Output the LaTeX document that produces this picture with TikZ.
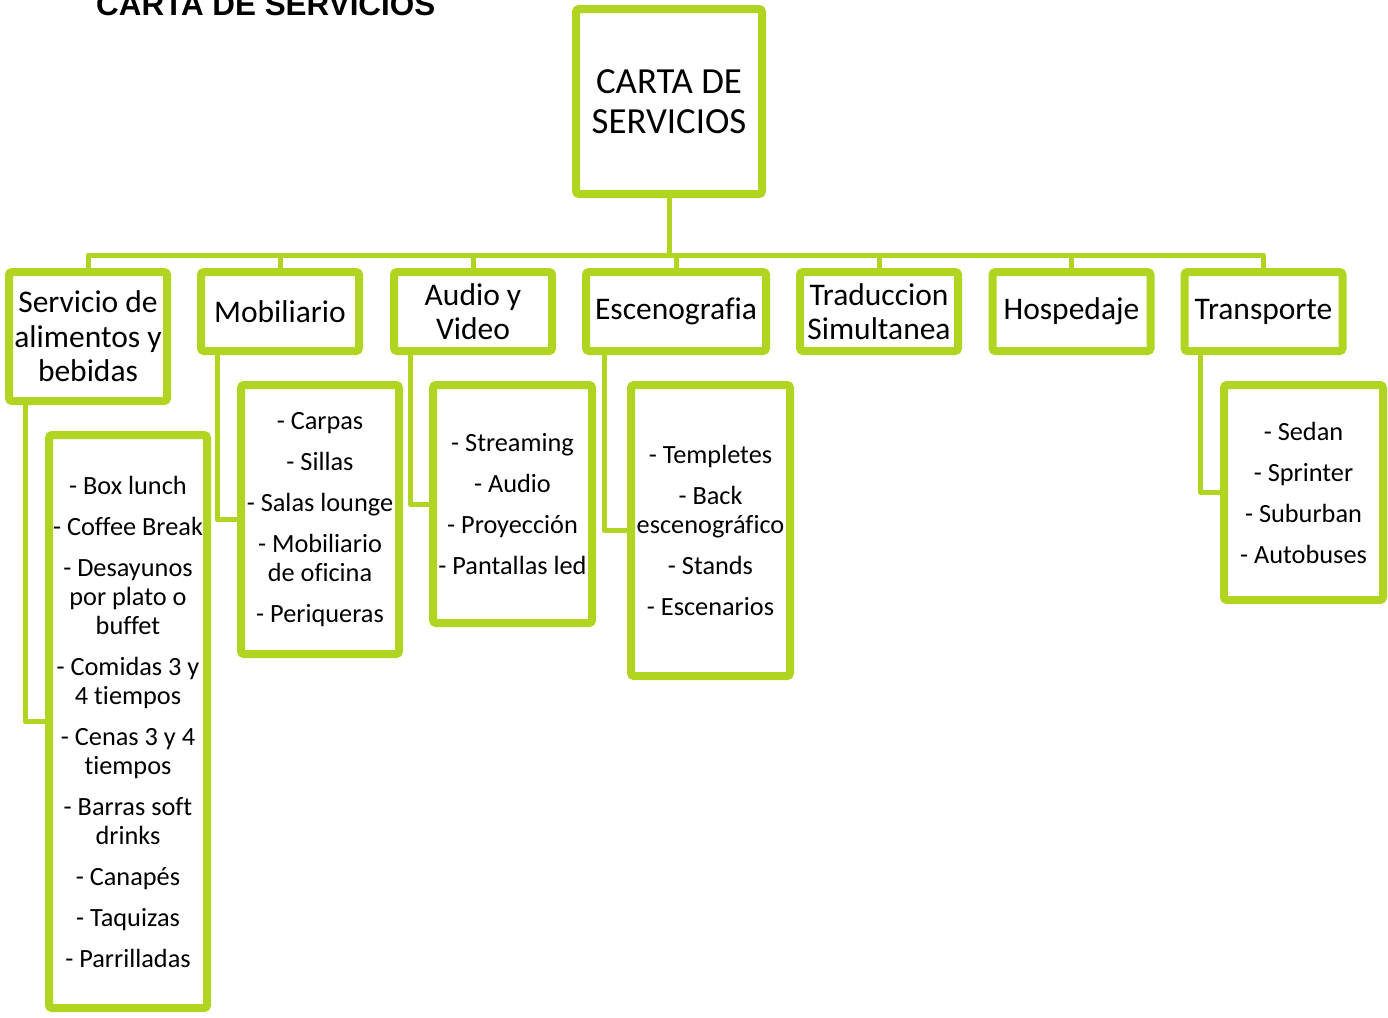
\documentclass[tikz,border=0pt]{standalone}
\usepackage{fontspec}
\setmainfont{Carlito}[Ligatures=NoCommon]
\newfontfamily\titlefont{Liberation Sans}
\usetikzlibrary{shadows}
\definecolor{lima}{RGB}{176,212,32}
\tikzset{
  caja/.style={draw=lima, line width=8pt, fill=white, rounded corners=3pt, inner sep=0pt, align=center,
    drop shadow={shadow xshift=2pt, shadow yshift=-3pt, opacity=0.2}},
  rama/.style={caja, minimum width=158pt, minimum height=79pt, font=\fontsize{31.5}{34.5}\selectfont},
  lista/.style={caja, font=\fontsize{26.3}{29}\selectfont},
  enlace/.style={draw=lima, line width=5pt, line join=round}
}
\begin{document}
\begin{tikzpicture}[x=1pt,y=-1pt]
\useasboundingbox (0,0) rectangle (1388,1017);

\node[anchor=base west, inner sep=0pt, font=\titlefont\bfseries\fontsize{31.4}{36}\selectfont] (titulo) at (96,16) {CARTA DE SERVICIOS};

\node[caja, minimum width=186pt, minimum height=185pt, font=\fontsize{36.8}{40}\selectfont] (carta) at (669,101.5) {CARTA DE\\SERVICIOS};

\node[rama, minimum height=129pt] (alim) at (88,336.5) {Servicio de\\alimentos y\\bebidas};
\node[rama] (mob) at (280,311.5) {Mobiliario};
\node[rama] (av) at (473,311.5) {Audio y\\Video};
\node[rama, minimum width=180pt] (esc) at (676,311.5) {Escenografia};
\node[rama] (trad) at (879,311.5) {Traduccion\\Simultanea};
\node[rama] (hosp) at (1071.5,311.5) {Hospedaje};
\node[rama] (trans) at (1263.5,311.5) {Transporte};

\node[lista, minimum width=158pt, minimum height=573pt] (comida) at (128,721.5) {- Box lunch\\[12pt]- Coffee Break\\[12pt]- Desayunos\\por plato o\\buffet\\[12pt]- Comidas 3 y\\4 tiempos\\[12pt]- Cenas 3 y 4\\tiempos\\[12pt]- Barras soft\\drinks\\[12pt]- Canapés\\[12pt]- Taquizas\\[12pt]- Parrilladas};
\node[lista, minimum width=158pt, minimum height=269pt] (muebles) at (320,519.5) {- Carpas\\[12pt]- Sillas\\[12pt]- Salas lounge\\[12pt]- Mobiliario\\de oficina\\[12pt]- Periqueras};
\node[lista, minimum width=159pt, minimum height=238pt] (equipo) at (512.5,504) {- Streaming\\[12pt]- Audio\\[12pt]- Proyección\\[12pt]- Pantallas led};
\node[lista, minimum width=159pt, minimum height=291pt] (montaje) at (710.5,530.5) {- Templetes\\[12pt]- Back\\escenográfico\\[12pt]- Stands\\[12pt]- Escenarios};
\node[lista, minimum width=159pt, minimum height=215pt] (vehiculos) at (1303.5,492.5) {- Sedan\\[12pt]- Sprinter\\[12pt]- Suburban\\[12pt]- Autobuses};

\coordinate (bus) at (669,255);
\draw[enlace] (carta.south) -- (bus);
\foreach \n in {alim,mob,av,esc,trad,hosp,trans}
  \draw[enlace] (\n.north) |- (bus);

\draw[enlace] ([xshift=20pt]alim.south west) |- (comida.west);
\draw[enlace] ([xshift=20pt]mob.south west) |- (muebles.west);
\draw[enlace] ([xshift=20pt]av.south west) |- (equipo.west);
\draw[enlace] ([xshift=22pt]esc.south west) |- (montaje.west);
\draw[enlace] ([xshift=20pt]trans.south west) |- (vehiculos.west);
\end{tikzpicture}
\end{document}
